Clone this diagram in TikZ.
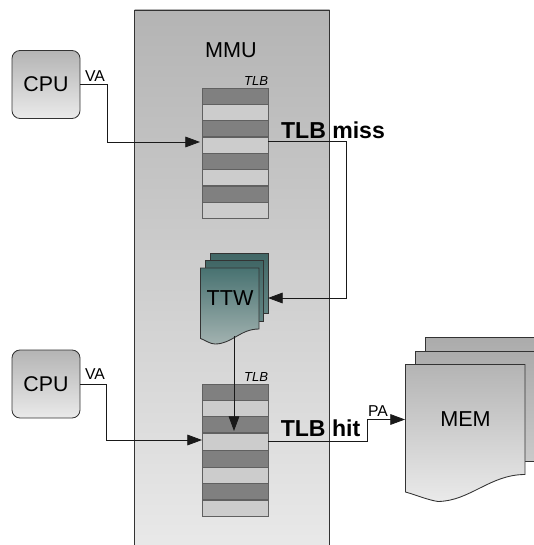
\documentclass[tikz,border=0pt]{standalone}
\usepackage{fontspec}
\setmainfont{Liberation Sans}
\usetikzlibrary{arrows.meta}
\definecolor{gtop}{HTML}{B4B4B4}
\definecolor{gbot}{HTML}{EAEAEA}
\definecolor{ttop}{HTML}{487271}
\definecolor{tbot}{HTML}{A2B2B0}
\definecolor{rowdark}{HTML}{808080}
\definecolor{rowlight}{HTML}{CCCCCC}
\definecolor{edge}{HTML}{333333}
\tikzset{
  x=0.75pt,y=-0.75pt,
  grayfill/.style={top color=gtop,bottom color=gbot},
  tealfill/.style={top color=ttop,bottom color=tbot},
  backteal/.style={top color=ttop!90!black,bottom color=ttop!70!tbot},
  backgray/.style={top color=gtop!95!black,bottom color=gtop!60!gbot},
  outline/.style={draw=edge,line width=0.65pt},
  cpubox/.style={outline,grayfill,rounded corners=6pt,minimum width=51pt,minimum height=51pt,inner sep=0pt,font=\fontsize{16pt}{18pt}\selectfont},
  rowdk/.style={draw=rowdark!75!black,line width=0.6pt,fill=rowdark,anchor=north west,inner sep=0pt,minimum width=49.5pt},
  rowlt/.style={draw=rowdark!75!black,line width=0.6pt,fill=rowlight,anchor=north west,inner sep=0pt,minimum width=49.5pt},
  label/.style={inner sep=0pt,font=\fontsize{11.8pt}{14pt}\selectfont},
  tlbname/.style={inner sep=0pt,font=\fontsize{9.8pt}{12pt}\selectfont\itshape},
  shapetext/.style={inner sep=0pt,font=\fontsize{16.2pt}{18pt}\selectfont},
  statustext/.style={inner sep=0pt,font=\fontsize{17.3pt}{20pt}\selectfont\bfseries},
  wire/.style={draw=black!90,line width=0.6pt},
  arrowwire/.style={wire,-{Triangle[length=11pt,width=8pt]}},
}
\begin{document}
\begin{tikzpicture}
\useasboundingbox (0,0) rectangle (534,545);
\clip (0,0) rectangle (534,545);
% MMU
\path[outline,grayfill] (134.5,10) rectangle (329.5,560);
\node[shapetext] (mmu) at (231,50) {MMU};
% CPUs
\node[cpubox] (cpu1) at (46,84.5) {CPU};
\node[cpubox] (cpu2) at (46,384) {CPU};
\node[label] (va1) at (95,76) {VA};
\node[label] (va2) at (95,374.5) {VA};
% TLB 1
\node[tlbname] (tlbn1) at (256,81) {TLB};
\node[rowdk,minimum height=12pt] (a1) at (202,88) {};
\node[rowlt,minimum height=12pt] (a2) at (202,104) {};
\node[rowdk,minimum height=12pt] (a3) at (202,120) {};
\node[rowlt,minimum height=12pt] (a4) at (202,137) {};
\node[rowdk,minimum height=12pt] (a5) at (202,153) {};
\node[rowlt,minimum height=12pt] (a6) at (202,169) {};
\node[rowdk,minimum height=12pt] (a7) at (202,186) {};
\node[rowlt,minimum height=12pt] (a8) at (202,202) {};
% TLB 2
\node[tlbname] (tlbn2) at (256,377) {TLB};
\node[rowdk,minimum height=12pt] (b1) at (202,384) {};
\node[rowlt,minimum height=12pt] (b2) at (202,400) {};
\node[rowdk,minimum height=12pt] (b3) at (202,416) {};
\node[rowlt,minimum height=13.2pt] (b4) at (202,432.5) {};
\node[rowdk,minimum height=12.4pt] (b5) at (202,450) {};
\node[rowlt,minimum height=12pt] (b6) at (202,467) {};
\node[rowdk,minimum height=12pt] (b7) at (202,483) {};
\node[rowlt,minimum height=12pt] (b8) at (202,499.5) {};
% TTW
\path[outline,backteal] (210,253) rectangle (268,313);
\path[outline,backteal] (205,260.5) rectangle (263,321);
\path[outline,tealfill] (200.5,268) -- (259,268) -- (259,329)
  .. controls (240,329) and (232,344) .. (215,344) .. controls (210,344) and (205,340) .. (200.5,338.5) -- cycle;
\node[shapetext] (ttw) at (230,298) {TTW};
\coordinate (ttwout) at (234,336);
\coordinate (ttwin) at (268,298);
% MEM
\path[outline,backgray] (425,337) rectangle (560,440);
\path[outline,backgray] (415.5,351) rectangle (560,461);
\path[outline,grayfill] (405.5,364.5) -- (525,364.5) -- (525,474.5)
  .. controls (490,474.5) and (470,501) .. (438,501.5) .. controls (428,500) and (416,495) .. (405.5,492) -- cycle;
\node[shapetext] (mem) at (465.5,419) {MEM};
\coordinate (memin) at (405,419.5);
% Connectors
\coordinate (t1in) at (200,142);
\coordinate (t2in) at (202,440);
\coordinate (t1out) at (268,141);
\coordinate (t2out) at (268,441.5);
\coordinate (t2hit) at (234,431);
\coordinate (m1) at (346,141);
\coordinate (m2) at (346,298);
\coordinate (h1) at (367.5,441.5);
\coordinate (h2) at (367.5,419.5);
\coordinate (v1a) at (107,84.5);
\coordinate (v1b) at (107,142);
\coordinate (v2a) at (106.5,384);
\coordinate (v2b) at (106.5,440);
\draw[arrowwire] (cpu1.east) -- (v1a) -- (v1b) -- (t1in);
\draw[arrowwire] (cpu2.east) -- (v2a) -- (v2b) -- (t2in);
\draw[arrowwire] (t1out) -- (m1) -- (m2) -- (ttwin);
\draw[arrowwire] (ttwout) -- (t2hit);
\draw[arrowwire] (t2out) -- (h1) -- (h2) -- (memin);
% Status labels
\node[statustext] (miss) at (333,130) {TLB miss};
\node[statustext] (hit) at (320.5,428.5) {TLB hit};
\node[label] (pa) at (378,411) {PA};
\end{tikzpicture}
\end{document}
